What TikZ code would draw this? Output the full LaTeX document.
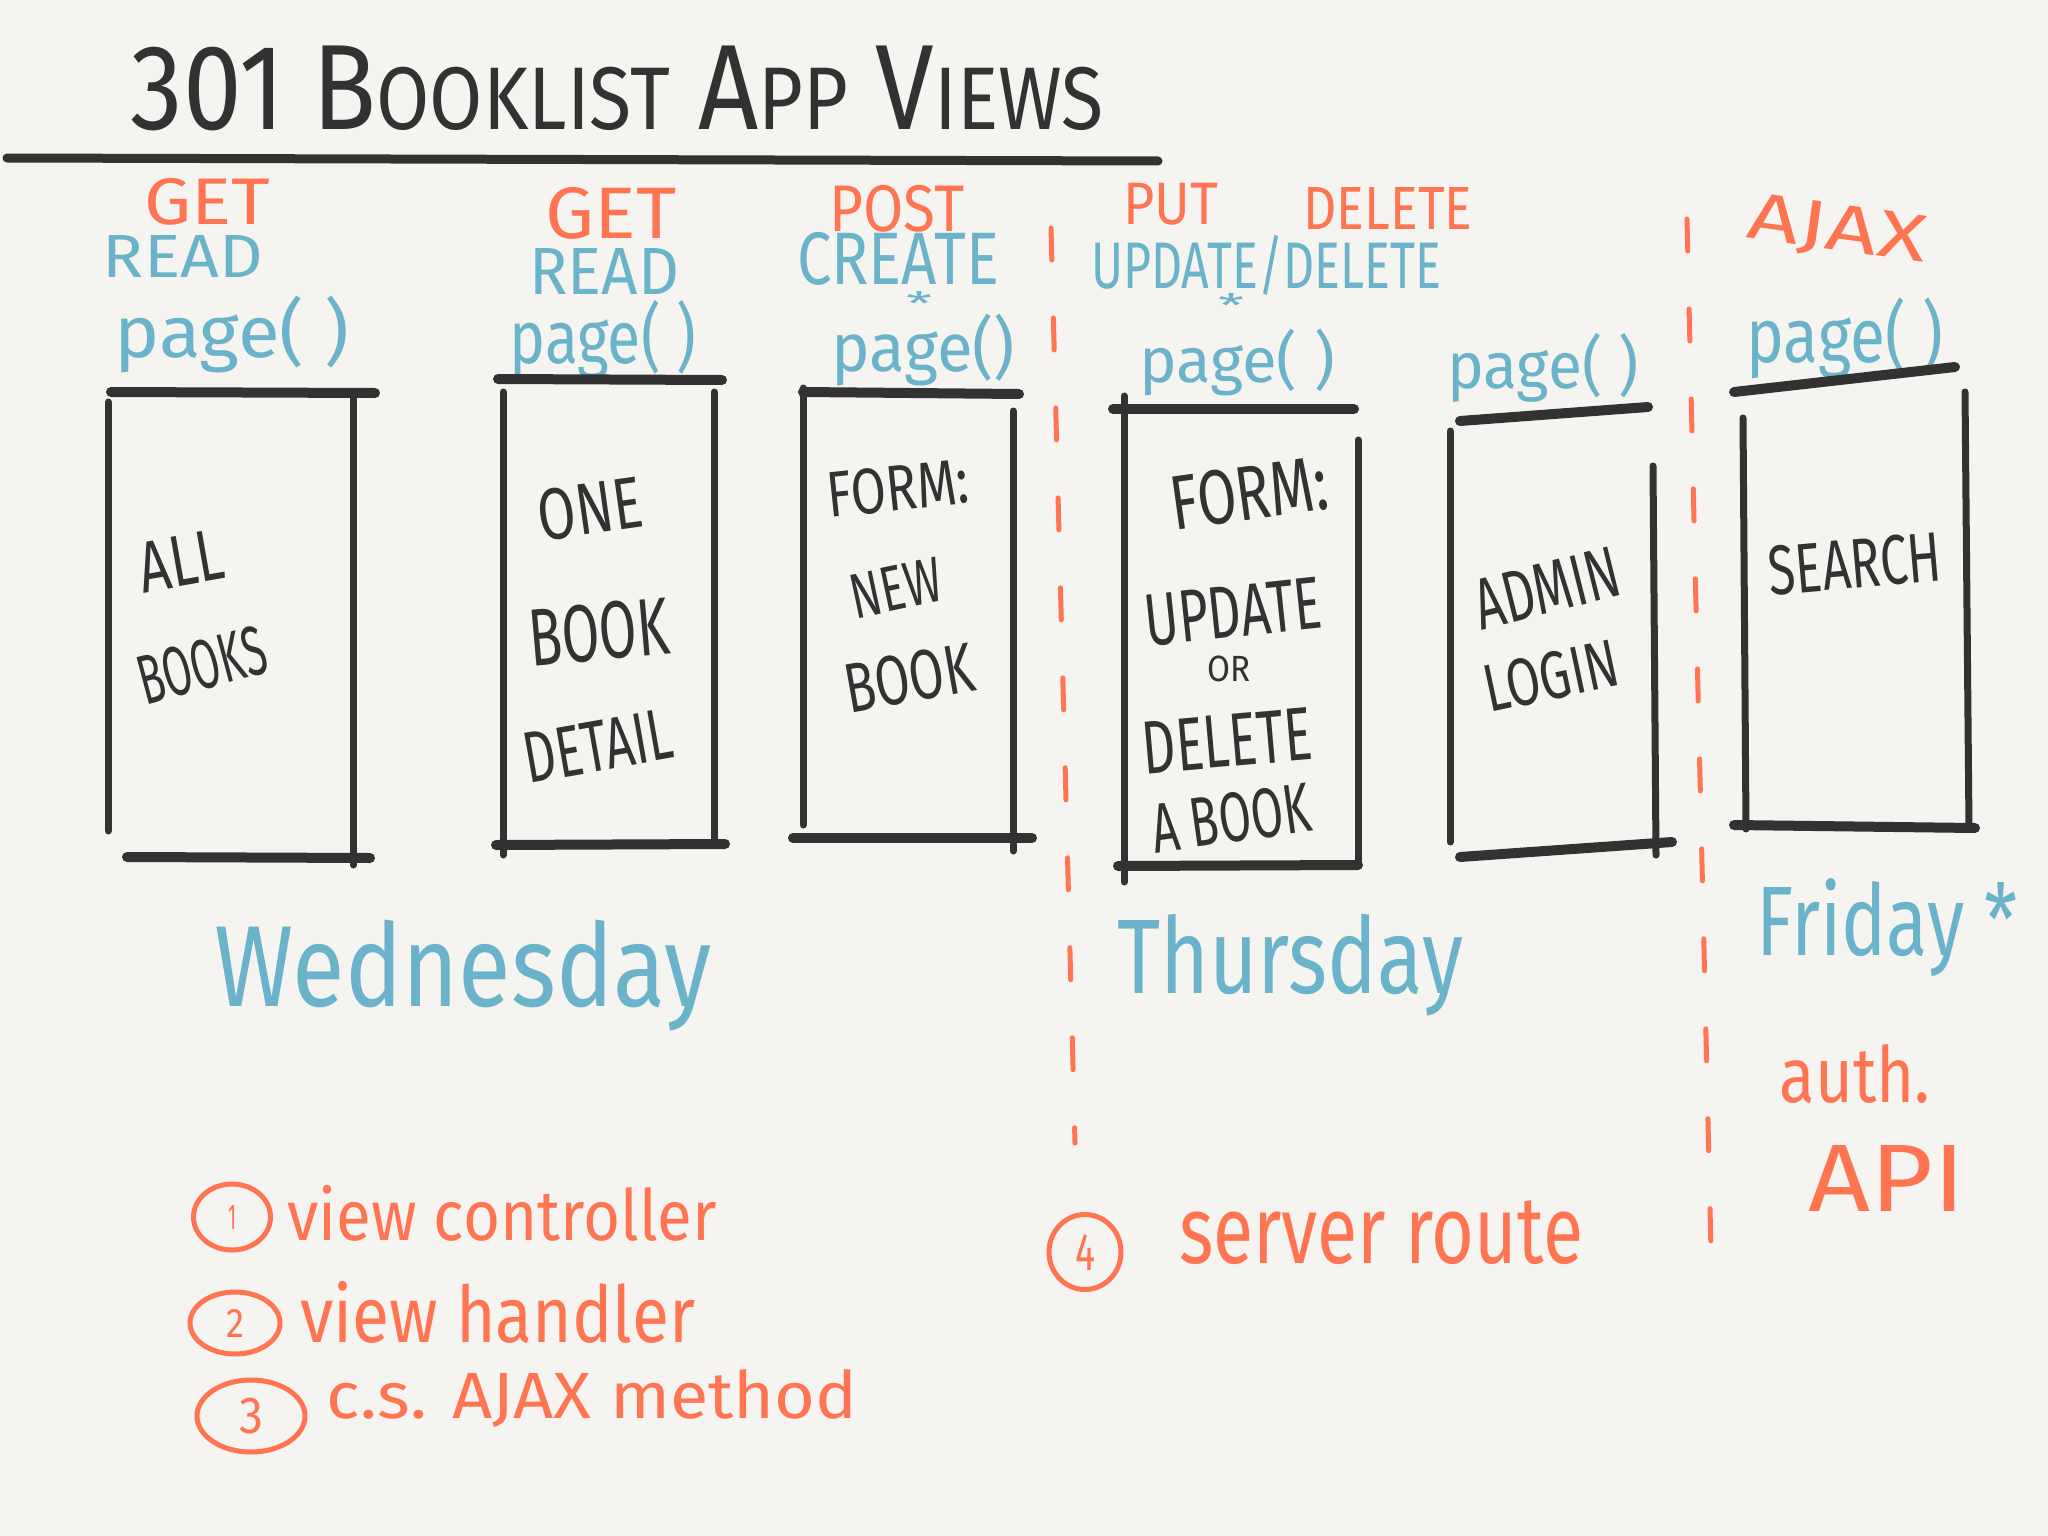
\documentclass[tikz,border=0pt]{standalone}
\usepackage{fontspec}
\usepackage{graphicx}
\setmainfont{Fira Sans}
\usetikzlibrary{shapes.geometric}
\definecolor{paper}{HTML}{F5F4F0}
\definecolor{ink}{HTML}{323232}
\definecolor{orng}{HTML}{FF7552}
\definecolor{blu}{HTML}{6AB3CA}
\newcommand{\fb}[3]{\resizebox*{#1pt}{#2pt}{#3}}
\newcommand{\smc}{\fontsize{44}{50}\selectfont}
\tikzset{
  lbl/.style={inner sep=0pt, outer sep=0pt, anchor=center, font=\fontsize{60}{72}\selectfont},
  inktxt/.style={lbl, text=ink},
  orngtxt/.style={lbl, text=orng},
  blutxt/.style={lbl, text=blu},
  side/.style={draw=ink, line width=7pt, line cap=round},
  rim/.style={draw=ink, line width=10pt, line cap=round},
  divider/.style={draw=orng, line width=5pt, line cap=round, dash pattern=on 32pt off 58pt},
  numring/.style={ellipse, draw=orng, line width=5pt, inner sep=0pt, text=orng, font=\fontsize{60}{72}\selectfont},
}
\begin{document}
\begin{tikzpicture}[x=1pt,y=-1pt]
\fill[paper] (0,0) rectangle (2048,1536);
\useasboundingbox (0,0) rectangle (2048,1536);

% title
\node[inktxt] (title) at (617,88) {\fb{973}{85}{301 B{\smc OOKLIST} A{\smc PP} V{\smc IEWS}}};
\draw[draw=ink, line width=9pt, line cap=round] (7,158) -- (1158,161);

% dividers
\draw[divider] (1051,228) -- (1075,1143);
\draw[divider] (1687,219) -- (1711,1251);

% labels above boxes
\node[orngtxt] (get1) at (207,202) {\fb{126}{47}{GET}};
\node[blutxt] (read1) at (183,256) {\fb{160}{42}{READ}};
\node[blutxt] (pg1) at (232,334) {\fb{235}{77}{page( )}};

\node[orngtxt] (get2) at (611,213) {\fb{131}{52}{GET}};
\node[blutxt] (read2) at (604,271) {\fb{150}{46}{READ}};
\node[blutxt] (pg2) at (603,340) {\fb{187}{79}{page( )}};

\node[orngtxt] (post) at (897,209) {\fb{135}{47}{POST}};
\node[blutxt] (create) at (898,259) {\fb{202}{53}{CREATE}};
\node[blutxt] (star1) at (919,303) {\fb{26}{24}{*}};
\node[blutxt] (pg3) at (923,350) {\fb{184}{72}{page()}};

\node[orngtxt] (put) at (1171,204) {\fb{95}{42}{PUT}};
\node[orngtxt] (del) at (1388,208) {\fb{169}{42}{DELETE}};
\node[blutxt] (upd) at (1266,265) {\fb{350}{60}{UPDATE/DELETE}};
\node[blutxt] (star2) at (1231,305) {\fb{26}{24}{*}};
\node[blutxt] (pg4) at (1237,362) {\fb{196}{67}{page( )}};
\node[blutxt] (pg5) at (1543,368) {\fb{192}{69}{page( )}};

\node[orngtxt, rotate=-8] (ajax) at (1837,232) {\fb{180}{55}{AJAX}};
\node[blutxt] (pg6) at (1845,338) {\fb{197}{81}{page( )}};

% box 1
\draw[rim] (111,392) -- (375,393);
\draw[side] (108,402) -- (108,831);
\draw[side] (353,398) -- (353,865);
\draw[rim] (127,857) -- (370,858);
\node[inktxt, rotate=10] (all) at (181,561) {\fb{85}{50}{ALL}};
\node[inktxt, rotate=15] (books) at (202,665) {\fb{130}{50}{BOOKS}};

% box 2
\draw[rim] (498,379) -- (722,380);
\draw[side] (503,392) -- (503,855);
\draw[side] (714,392) -- (714,842);
\draw[rim] (496,845) -- (725,844);
\node[inktxt, rotate=8] (one) at (590,509) {\fb{105}{52}{ONE}};
\node[inktxt, rotate=5] (book2) at (599,632) {\fb{141}{58}{BOOK}};
\node[inktxt, rotate=10] (detail) at (598,746) {\fb{150}{50}{DETAIL}};

% box 3
\draw[rim] (803,392) -- (1019,394);
\draw[side] (803,388) -- (803,825);
\draw[side] (1013,411) -- (1013,851);
\draw[rim] (793,838) -- (1032,838);
\node[inktxt, rotate=6] (form3) at (898,488) {\fb{142}{46}{FORM:}};
\node[inktxt, rotate=12] (new) at (896,588) {\fb{92}{44}{NEW}};
\node[inktxt, rotate=10] (book3) at (909,678) {\fb{130}{50}{BOOK}};

% box 4
\draw[rim] (1113,409) -- (1354,409);
\draw[side] (1124,396) -- (1124,882);
\draw[side] (1358,440) -- (1358,866);
\draw[rim] (1118,866) -- (1358,865);
\node[inktxt, rotate=8] (form4) at (1249,493) {\fb{158}{55}{FORM:}};
\node[inktxt, rotate=6] (update) at (1233,612) {\fb{178}{52}{UPDATE}};
\node[inktxt] (or) at (1229,669) {\fb{43}{26}{OR}};
\node[inktxt, rotate=5] (delete) at (1227,741) {\fb{170}{52}{DELETE}};
\node[inktxt, rotate=8] (abook) at (1231,818) {\fb{160}{50}{A BOOK}};

% box 5
\draw[rim] (1460,421) -- (1648,407);
\draw[side] (1450,431) -- (1450,842);
\draw[side] (1653,466) -- (1656,855);
\draw[rim] (1460,857) -- (1672,842);
\node[inktxt, rotate=14] (admin) at (1547,588) {\fb{148}{50}{ADMIN}};
\node[inktxt, rotate=12] (login) at (1551,676) {\fb{136}{48}{LOGIN}};

% box 6
\draw[rim] (1734,392) -- (1955,367);
\draw[side] (1743,418) -- (1746,829);
\draw[side] (1965,392) -- (1969,829);
\draw[rim] (1734,825) -- (1975,828);
\node[inktxt, rotate=5] (search) at (1855,564) {\fb{173}{50}{SEARCH}};

% days
\node[blutxt] (wed) at (463,976) {\fb{497}{111}{Wednesday}};
\node[blutxt] (thu) at (1290,965) {\fb{346}{102}{Thursday}};
\node[blutxt] (fri) at (1887,928) {\fb{261}{98}{Friday *}};
\node[orngtxt] (auth) at (1855,1074) {\fb{151}{59}{auth.}};
\node[orngtxt] (api) at (1887,1178) {\fb{157}{66}{API}};

% notes
\node[numring, minimum width=77pt, minimum height=66pt] (n1) at (232,1217) {\fb{8}{24}{1}};
\node[orngtxt] (vc) at (502,1213) {\fb{429}{56}{view controller}};
\node[numring, minimum width=90pt, minimum height=62pt] (n2) at (235,1323) {\fb{18}{28}{2}};
\node[orngtxt] (vh) at (498,1312) {\fb{395}{62}{view handler}};
\node[numring, minimum width=108pt, minimum height=72pt] (n3) at (251,1416) {\fb{24}{36}{3}};
\node[orngtxt] (cs) at (592,1398) {\fb{531}{58}{c.s. AJAX method}};
\node[numring, minimum width=72pt, minimum height=75pt] (n4) at (1085,1252) {\fb{20}{36}{4}};
\node[orngtxt] (sr) at (1381,1233) {\fb{404}{64}{server route}};
\end{tikzpicture}
\end{document}
